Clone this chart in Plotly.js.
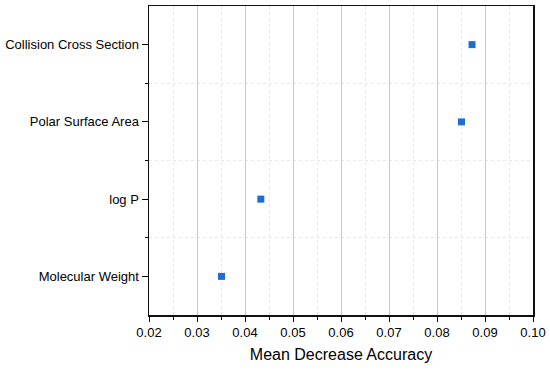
<!DOCTYPE html>
<html>
<head>
<meta charset="utf-8">
<script src="https://cdn.plot.ly/plotly-3.0.1.min.js"></script>
<style>html,body{margin:0;padding:0;background:#fff}#chart{width:550px;height:372px}</style>
</head>
<body>
<div id="chart"></div>
<script>
const categories = ["Molecular Weight", "log P", "Polar Surface Area", "Collision Cross Section"];
const values = [0.0351, 0.0433, 0.0851, 0.0873];
const xTickVals = [0.02, 0.03, 0.04, 0.05, 0.06, 0.07, 0.08, 0.09, 0.10];
const xTickText = ["0.02", "0.03", "0.04", "0.05", "0.06", "0.07", "0.08", "0.09", "0.10"];

const ypos = categories.map((c, i) => i);

const trace = {
  type: 'scatter',
  mode: 'markers',
  x: values,
  y: ypos,
  marker: {symbol: 'square', size: 7, color: '#1e6ed2'},
  hoverinfo: 'x+text',
  text: categories
};

const layout = {
  width: 550,
  height: 372,
  margin: {l: 149, r: 17, t: 5.5, b: 57},
  paper_bgcolor: '#fff',
  plot_bgcolor: '#fff',
  showlegend: false,
  font: {family: 'Liberation Sans, Arial, sans-serif', color: '#000'},
  xaxis: {
    range: [0.02, 0.10],
    tickmode: 'array',
    tickvals: xTickVals,
    ticktext: xTickText,
    ticks: 'outside',
    ticklen: 5,
    tickwidth: 1,
    tickcolor: '#000',
    tickfont: {size: 13, color: '#000'},
    showline: true,
    linecolor: '#111',
    linewidth: 1.5,
    mirror: true,
    showgrid: true,
    gridcolor: '#c8c8c8',
    gridwidth: 1,
    zeroline: false,
    minor: {
      tickmode: 'linear', tick0: 0.025, dtick: 0.01,
      ticks: 'outside', ticklen: 3, tickcolor: '#000', tickwidth: 1,
      showgrid: true, gridcolor: '#e8e8e8', griddash: 'dot', gridwidth: 1
    },
    title: {text: 'Mean Decrease Accuracy', font: {size: 16, color: '#000'}, standoff: 9}
  },
  yaxis: {
    range: [-0.5, 3.5],
    tickmode: 'array',
    tickvals: ypos,
    ticktext: categories,
    ticks: 'outside',
    ticklen: 6,
    tickwidth: 1,
    tickcolor: '#000',
    tickfont: {size: 13, color: '#000'},
    showline: true,
    linecolor: '#111',
    linewidth: 1.5,
    mirror: true,
    showgrid: false,
    zeroline: false,
    minor: {
      tickmode: 'array', tickvals: [0.5, 1.5, 2.5],
      ticks: 'outside', ticklen: 3, tickcolor: '#000', tickwidth: 1,
      showgrid: true, gridcolor: '#e8e8e8', griddash: 'dot', gridwidth: 1
    }
  }
};

Plotly.newPlot('chart', [trace], layout, {displayModeBar: false, staticPlot: true});
</script>
</body>
</html>
